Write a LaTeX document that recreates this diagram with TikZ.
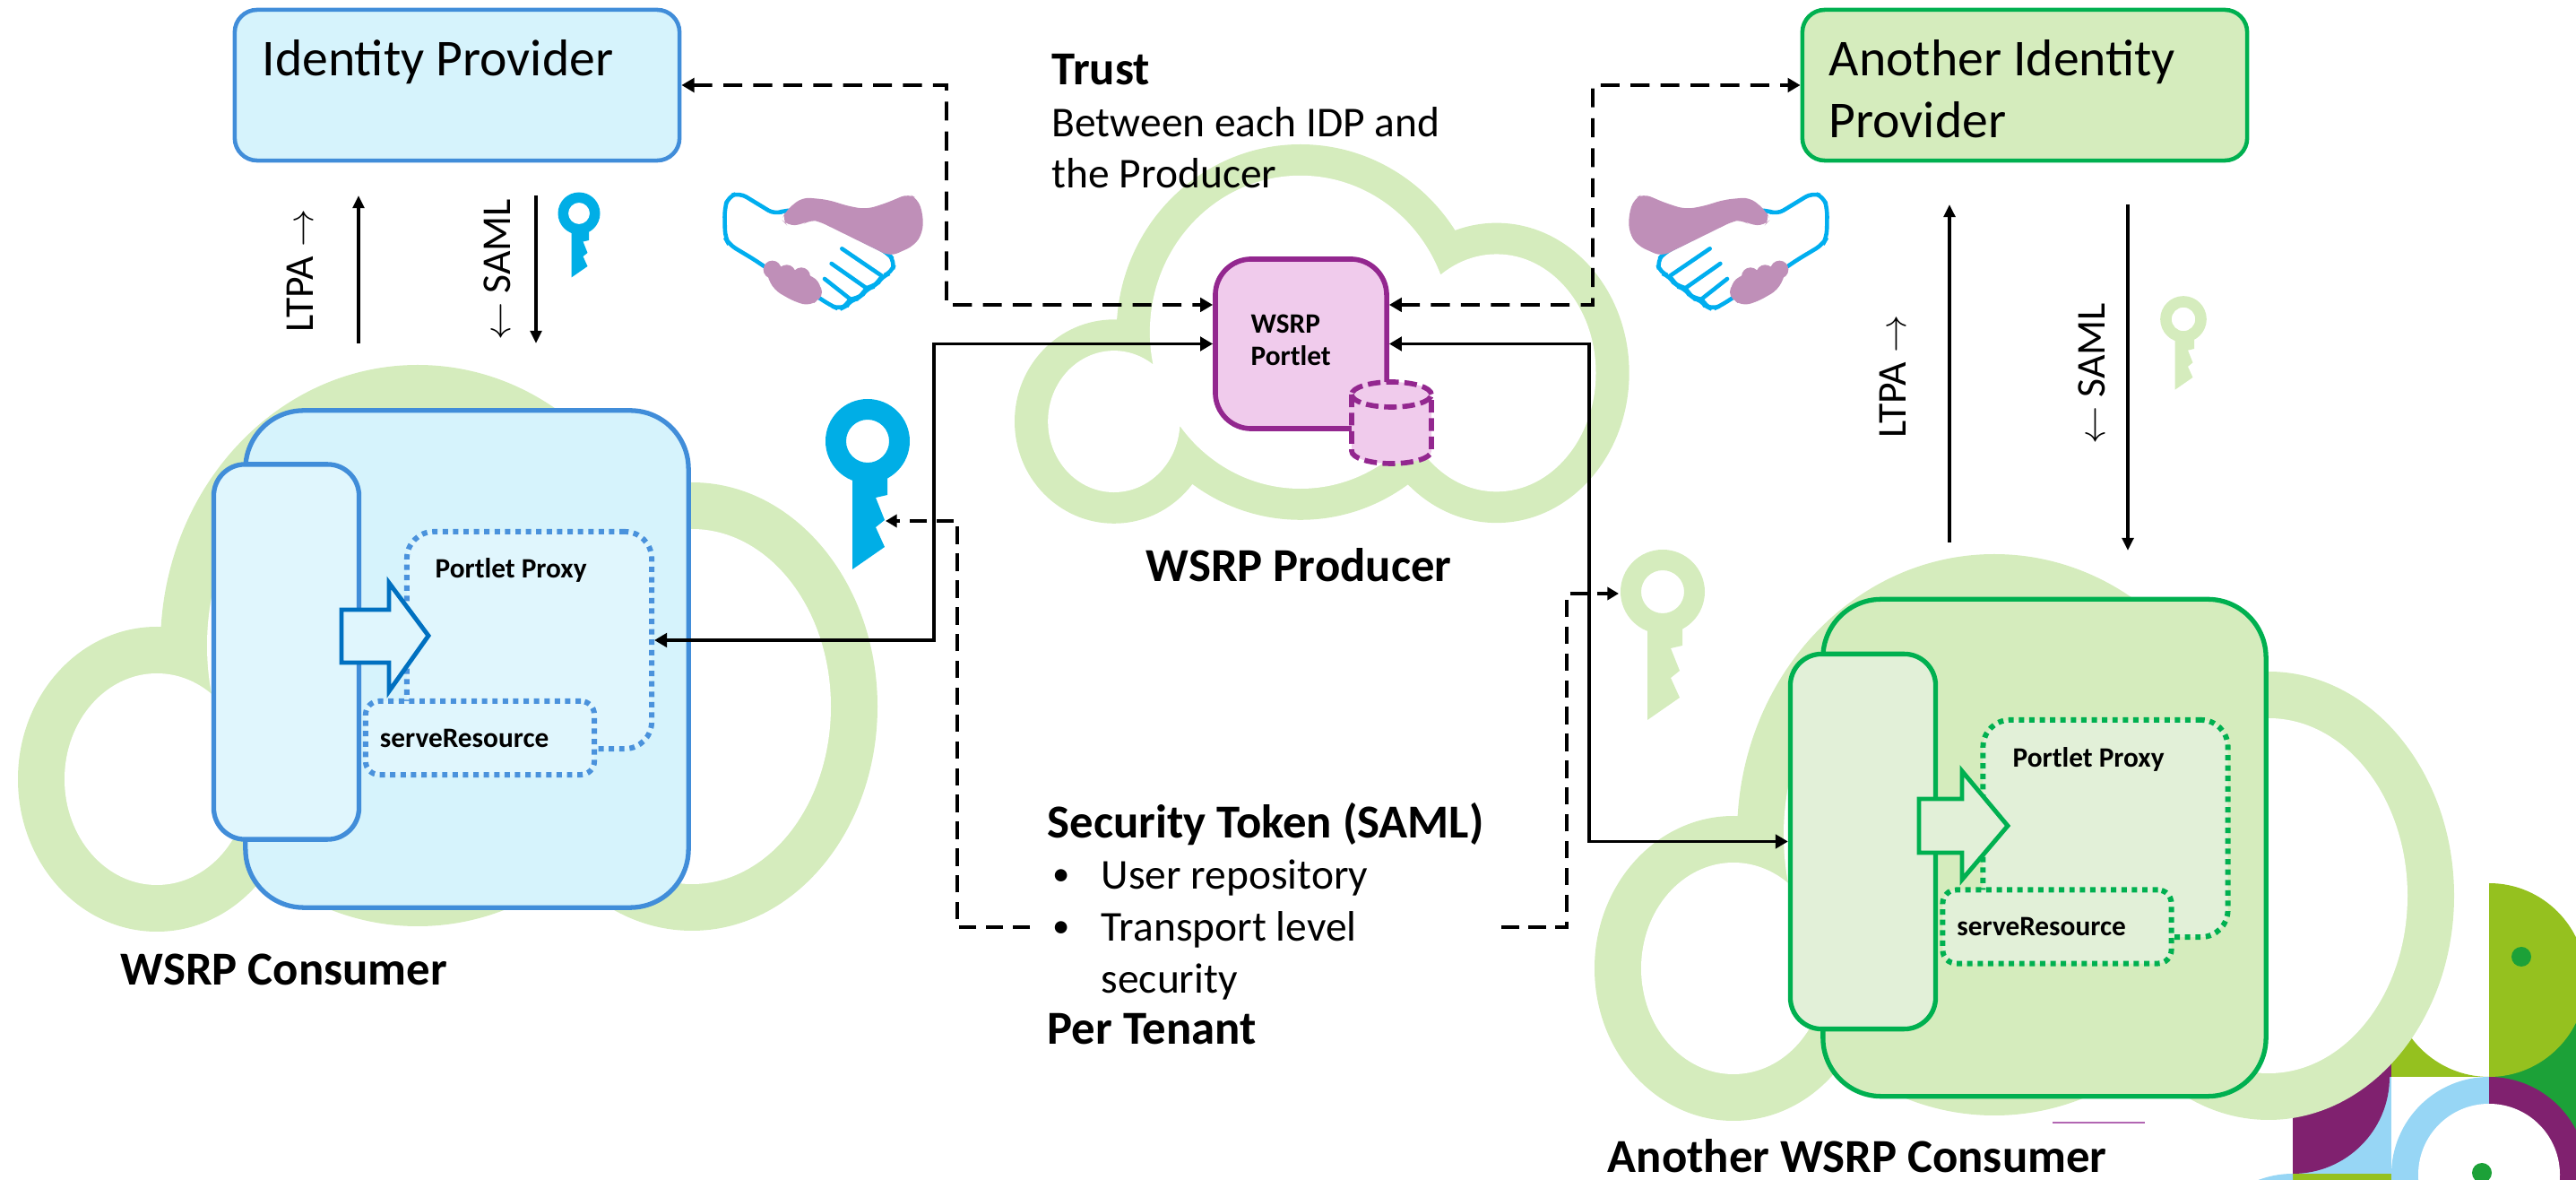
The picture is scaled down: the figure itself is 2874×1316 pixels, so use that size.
\documentclass[tikz,border=0pt]{standalone}
\usepackage{fontspec}
\setmainfont{Carlito}
\usetikzlibrary{arrows.meta}

\definecolor{idpblue}{RGB}{65,141,217}
\definecolor{idpfill}{RGB}{214,243,252}
\definecolor{paleblue}{RGB}{224,246,253}
\definecolor{dotblue}{RGB}{74,146,220}
\definecolor{arrowblue}{RGB}{0,112,192}
\definecolor{hostgreen}{RGB}{0,176,80}
\definecolor{cloudgreen}{RGB}{213,236,189}
\definecolor{palegreen}{RGB}{226,240,216}
\definecolor{portletpurple}{RGB}{147,39,143}
\definecolor{portletfill}{RGB}{240,203,236}
\definecolor{keyblue}{RGB}{0,174,230}
\definecolor{hsblue}{RGB}{0,174,239}
\definecolor{hspurple}{RGB}{191,143,184}
\definecolor{decoolive}{RGB}{149,193,31}
\definecolor{decogreen}{RGB}{28,161,56}
\definecolor{decopurple}{RGB}{128,33,111}
\definecolor{decoblue}{RGB}{151,214,245}
\definecolor{thinmauve}{RGB}{178,102,178}

\begin{document}
\begin{tikzpicture}[
  x=0.01cm, y=-0.01cm,
  idpbox/.style={line width=1.3pt, rounded corners=0.25cm,
                 minimum width=4.96cm, minimum height=1.68cm},
  hostbox/.style={line width=1.5pt, rounded corners=0.65cm,
                  minimum width=4.94cm, minimum height=5.54cm},
  sidebox/.style={line width=1.5pt, rounded corners=0.35cm,
                  minimum width=1.62cm, minimum height=4.18cm},
  proxybox/.style={line width=1.7pt, dash pattern=on 1.7pt off 1.6pt,
                   rounded corners=0.3cm, minimum width=2.73cm, minimum height=2.42cm},
  servebox/.style={line width=1.7pt, dash pattern=on 1.7pt off 1.6pt,
                   rounded corners=0.15cm, minimum width=2.55cm, minimum height=0.82cm,
                   text width=2.23cm, inner xsep=0.16cm, align=left,
                   font=\bfseries\fontsize{8.9}{10.5}\selectfont},
  portletbox/.style={draw=portletpurple, fill=portletfill, line width=1.6pt,
                     rounded corners=0.4cm, minimum width=1.91cm, minimum height=1.89cm},
  flow/.style={-{Triangle[length=4pt,width=3.6pt]}, line width=1pt},
  link/.style={{Triangle[length=4pt,width=4.4pt]}-{Triangle[length=4pt,width=4.4pt]},
               line width=1.1pt},
  trust/.style={link, dash pattern=on 6pt off 3.5pt},
  token/.style={-{Triangle[length=3.6pt,width=4pt]}, line width=0.9pt,
                dash pattern=on 5.5pt off 3pt},
  txt/.style={anchor=base west, inner sep=0, align=left},
  idptext/.style={txt, font=\fontsize{16.4}{19.9}\selectfont},
  notetext/.style={txt, font=\fontsize{13.5}{16.4}\selectfont},
  headtext/.style={txt, font=\bfseries\fontsize{15}{17}\selectfont},
  tagtext/.style={txt, font=\bfseries\fontsize{8.9}{10.5}\selectfont},
  vtext/.style={font=\fontsize{13}{15}\selectfont, rotate=90, inner sep=0},
  pics/cloudring/.style={code={
    \fill[cloudgreen] (155,462) ellipse[x radius=155, y radius=170]
      (446,313) ellipse[x radius=287, y radius=313]
      (752,381) ellipse[x radius=207, y radius=250];
    \fill[white] (155,462) ellipse[x radius=103, y radius=118]
      (446,313) ellipse[x radius=235, y radius=261]
      (752,381) ellipse[x radius=155, y radius=198];
  }},
  pics/keyicon/.style={code={
    \fill[#1, even odd rule] (0,0) circle[radius=47] (0,0) circle[radius=24];
    \fill[#1] (-17,38) -- (22,38) -- (22,60) -- (9,63) -- (19,88) -- (9,96)
      -- (19,118) -- (-17,143) -- cycle;
  }},
  pics/handshake/.style={code={
    \filldraw[fill=white, draw=hsblue, line width=1.3pt, rounded corners=2.5pt]
      (135,105) -- (255,178) -- (295,160) -- (380,180) -- (630,305) -- (655,335)
      -- (645,372) -- (612,384) -- (600,405) -- (580,420) -- (560,424) -- (548,445)
      -- (528,460) -- (505,462) -- (495,482) -- (470,495) -- (440,482) -- (400,455)
      -- (230,360) -- (190,332) -- (100,278) -- (87,255) -- (85,160) -- (97,118) -- cycle;
    \draw[hsblue, line width=1.3pt, line cap=round]
      (478,292) -- (610,382) (443,342) -- (560,424) (420,393) -- (505,460);
    \fill[hspurple, rounded corners=2.5pt]
      (345,120) -- (430,128) -- (500,150) -- (560,160) -- (625,140) -- (700,108)
      -- (732,125) -- (750,180) -- (748,240) -- (720,282) -- (640,318) -- (400,200)
      -- (372,195) -- (345,212) -- (295,215) -- (277,195) -- (290,165) -- cycle;
    \fill[hspurple] (245,362) circle[radius=30] (293,376) circle[radius=30]
      (342,385) circle[radius=30] (378,437) circle[radius=33];
    \fill[hspurple, rounded corners=2.5pt]
      (222,370) -- (250,430) -- (320,470) -- (372,484) -- (405,458) -- (410,410)
      -- (370,378) -- (250,345) -- cycle;
  }}
]
\useasboundingbox (0,0) rectangle (2874,1316);

% corner ornament
\fill[decogreen] (2777,1093) rectangle (2880,1316);
\fill[decoolive] (2777,985) arc[start angle=-90, end angle=90, radius=108] -- cycle;
\fill[decoolive] (2667,1201) -- (2777,1201) arc[start angle=90, end angle=180, radius=108]
  -- (2667,1093) -- cycle;
\fill[decogreen] (2813,1067) circle[radius=11];
\fill[decoblue] (2558,1201) rectangle (2668,1310);
\fill[decopurple] (2558,1093) rectangle (2668,1201);
\fill[decopurple] (2558,1201) -- (2666,1201) arc[start angle=0, end angle=90, radius=108] -- cycle;
\fill[decoolive] (2558,1309) rectangle (2668,1320);
\fill[decoblue] (2558,1309) arc[start angle=-90, end angle=-180, radius=109] -- (2558,1418) -- cycle;
\fill[decoblue] (2777,1201) arc[start angle=-90, end angle=-270, radius=109] -- cycle;
\fill[decopurple] (2777,1201) arc[start angle=-90, end angle=90, radius=109] -- cycle;
\fill[white] (2777,1310) circle[radius=79];
\fill[decogreen] (2769,1308) circle[radius=11];

% clouds
\pic at (20,407) {cloudring};
\pic[xscale=0.715, yscale=0.669] at (1132,161) {cloudring};
\pic at (1779,618) {cloudring};
\draw[thinmauve, line width=0.5pt] (2290,1252) -- (2393,1252);

% identity providers
\node[idpbox, draw=idpblue, fill=idpfill] (idp) at (510,95) {};
\node[idpbox, draw=hostgreen, fill=cloudgreen] (aidp) at (2259,95) {};

% producer
\node[portletbox] (portlet) at (1451.5,383.5) {};
\filldraw[fill=portletfill, draw=portletpurple, line width=1.6pt, dash pattern=on 4pt off 1.8pt]
  (1508,440) -- (1508,503) arc[start angle=180, end angle=0, x radius=44.5, y radius=14]
  -- (1597,440) arc[start angle=0, end angle=-180, x radius=44.5, y radius=14] -- cycle;
\draw[portletpurple, line width=1.6pt, dash pattern=on 4pt off 1.8pt]
  (1508,440) arc[start angle=180, end angle=0, x radius=44.5, y radius=14];

% consumers
\node[hostbox, draw=idpblue, fill=idpfill] (lhost) at (521,735) {};
\node[sidebox, draw=idpblue, fill=paleblue] (lside) at (319.5,727) {};
\node[proxybox, draw=dotblue, fill=paleblue] (lproxy) at (590.5,714) {};
\node[servebox, draw=dotblue, fill=paleblue] (lserve) at (535.5,823) {serveResource};
\filldraw[draw=arrowblue, fill=paleblue, line width=1.4pt]
  (381,680) -- (434,680) -- (434,650) -- (478,709) -- (434,771) -- (434,739) -- (381,739) -- cycle;

\node[hostbox, draw=hostgreen, fill=cloudgreen] (rhost) at (2281,945.5) {};
\node[sidebox, draw=hostgreen, fill=palegreen] (rside) at (2078.5,938.5) {};
\node[proxybox, draw=hostgreen, fill=palegreen] (rproxy) at (2349,924) {};
\node[servebox, draw=hostgreen, fill=palegreen] (rserve) at (2295,1033.5) {serveResource};
\filldraw[draw=hostgreen, fill=palegreen, line width=1.4pt]
  (2141,891) -- (2189,891) -- (2189,860) -- (2240,921) -- (2189,981) -- (2189,951) -- (2141,951) -- cycle;

% keys and handshakes
\pic at (968,492) {keyicon=keyblue};
\pic[scale=0.5] at (646,238) {keyicon=keyblue};
\pic at (1855,660) {keyicon=cloudgreen};
\pic[scale=0.55] at (2436,356) {keyicon=cloudgreen};
\pic[scale=1/3] at (780,180) {handshake};
\pic[xscale=-1/3, yscale=1/3] at (2067,180) {handshake};

% labels (multi-line ones sit on their last baseline)
\node[idptext] (idplbl) at (292,85) {Identity Provider};
\node[idptext] (aidplbl) at (2040,154) {Another Identity\\Provider};
\node[notetext] (trustlbl) at (1173,210)
  {{\bfseries\fontsize{15}{16.4}\selectfont Trust}\\Between each IDP and\\the Producer};
\node[tagtext] (portletlbl) at (1395,408) {WSRP\\Portlet};
\node[tagtext] (lproxylbl) at (485,645) {Portlet Proxy};
\node[tagtext] (rproxylbl) at (2245,856) {Portlet Proxy};
\node[headtext] (prodlbl) at (1278,649) {WSRP Producer};
\node[headtext] (lconslbl) at (134,1099) {WSRP Consumer};
\node[headtext] (rconslbl) at (1793,1308) {Another WSRP Consumer};
\node[notetext, inner xsep=0.19cm] (token) at (1149,1165)
  {{\bfseries\fontsize{15}{16.4}\selectfont Security Token (SAML)}\\
   \hspace*{0.06cm}\makebox[0.54cm][l]{\fontsize{11}{11}\selectfont\raisebox{0.04cm}{\textbullet}}User repository\\
   \hspace*{0.06cm}\makebox[0.54cm][l]{\fontsize{11}{11}\selectfont\raisebox{0.04cm}{\textbullet}}Transport level\\
   \hspace*{0.6cm}security\\
   {\bfseries\fontsize{15}{16.4}\selectfont Per Tenant}};
\node[vtext] (lltpa) at (335,302) {LTPA $\rightarrow$};
\node[vtext] (lsaml) at (555,301) {$\leftarrow$ SAML};
\node[vtext] (rltpa) at (2112,420) {LTPA $\rightarrow$};
\node[vtext] (rsaml) at (2334,417) {$\leftarrow$ SAML};

% token and certificate flows
\coordinate (lupA) at (400,383);  \coordinate (lupB) at (400,218);
\coordinate (ldnA) at (598,218);  \coordinate (ldnB) at (598,383);
\coordinate (rupA) at (2175,605); \coordinate (rupB) at (2175,228);
\coordinate (rdnA) at (2374,228); \coordinate (rdnB) at (2374,614);
\draw[flow] (lupA) -- (lupB);
\draw[flow] (ldnA) -- (ldnB);
\draw[flow] (rupA) -- (rupB);
\draw[flow] (rdnA) -- (rdnB);

\coordinate (ltrust) at (1056,340);
\coordinate (rtrust) at (1777,340);
\draw[trust] (idp.east) -| (ltrust) -- ([yshift=0.435cm]portlet.west);
\draw[trust] ([yshift=0.435cm]portlet.east) -- (rtrust) |- (aidp.west);

\coordinate (lrelay) at (1042,383.5);
\coordinate (rrelay) at (1773,383.5);
\draw[link] (lproxy.east) -| (lrelay) -- (portlet.west);
\draw[link] (portlet.east) -- (rrelay) |- (rside.west);

\coordinate (tokrow) at (0,1034);
\coordinate (lbend) at (1068,581);
\coordinate (lkeybit) at (988,581);
\coordinate (rbend) at (1748,662);
\coordinate (rkeyring) at (1806,662);
\draw[token] (token.west |- tokrow) -| (lbend) -- (lkeybit);
\draw[token] (token.east |- tokrow) -| (rbend) -- (rkeyring);
\end{tikzpicture}
\end{document}
